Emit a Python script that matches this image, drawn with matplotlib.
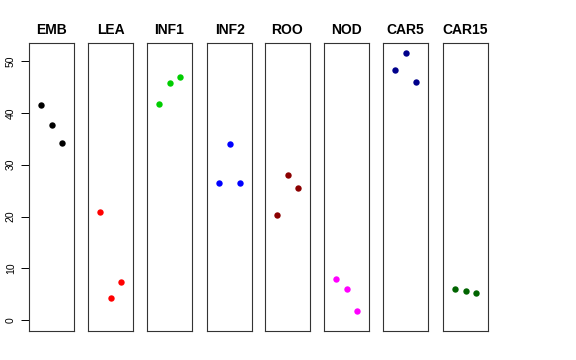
import matplotlib.pyplot as plt

plt.rcParams['font.family'] = ['Liberation Sans', 'DejaVu Sans']

groups = ["EMB", "LEA", "INF1", "INF2", "ROO", "NOD", "CAR5", "CAR15"]
colors = ["black", "red", "#00cd00", "blue", "#8b0000", "magenta", "#00008b", "#006400"]
vals = {
    "EMB":   [41.6, 37.6, 34.2],
    "LEA":   [20.8, 4.25, 7.4],
    "INF1":  [41.8, 45.7, 47.0],
    "INF2":  [26.5, 33.95, 26.5],
    "ROO":   [20.35, 27.95, 25.5],
    "NOD":   [7.85, 6.05, 1.85],
    "CAR5":  [48.25, 51.5, 46.05],
    "CAR15": [6.05, 5.67, 5.22],
}
xpos = [1, 2, 3]

W, H = 576, 360
fig = plt.figure(figsize=(W / 100, H / 100), dpi=100)

lefts = [29, 88, 147, 207, 265, 324, 383, 443]
pw, top, bot = 45, 43, 331
for i, g in enumerate(groups):
    ax = fig.add_axes([lefts[i] / W, 1 - bot / H, pw / W, (bot - top) / H])
    ax.plot(xpos, vals[g], 'o', color=colors[i], ms=4.6, mec='none')
    ax.set_xlim(-0.15, 4.15)
    ax.set_ylim(-2.1, 53.5)
    ax.set_xticks([])
    ax.set_title(g, fontsize=10, fontweight='bold', pad=6.5)
    for s in ax.spines.values():
        s.set_linewidth(0.8)
        s.set_color('#333333')
    if i == 0:
        ax.set_yticks([0, 10, 20, 30, 40, 50])
        ax.tick_params(axis='y', labelsize=7.5, length=5.5, width=0.7, pad=4)
        for lab in ax.get_yticklabels():
            lab.set_rotation(90)
            lab.set_va('center')
    else:
        ax.set_yticks([])

fig.savefig("out.png", dpi=100)
